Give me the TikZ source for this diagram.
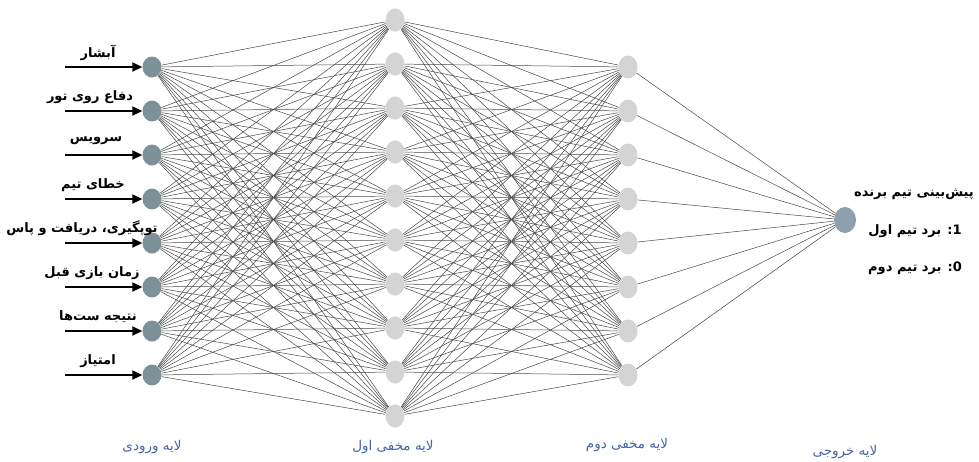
\documentclass[tikz,border=0pt]{standalone}
\usepackage{fontspec}
\newfontfamily\fa[Script=Arabic]{DejaVu Sans}
\TeXXeTstate=1
\usetikzlibrary{arrows.meta,shapes.geometric}
\pgfdeclarelayer{bg}\pgfsetlayers{bg,main}
\definecolor{inc}{RGB}{125,145,155}
\definecolor{hidc}{RGB}{212,212,212}
\definecolor{outc}{RGB}{140,160,176}
\definecolor{layc}{RGB}{70,100,165}
\begin{document}
\begin{tikzpicture}[x=1pt,y=-1pt,
  inode/.style={ellipse,fill=inc,minimum width=19pt,minimum height=21pt,inner sep=0pt},
  hnode/.style={ellipse,fill=hidc,minimum width=19pt,minimum height=23pt,inner sep=0pt},
  onode/.style={ellipse,fill=outc,minimum width=22pt,minimum height=26pt,inner sep=0pt},
  conn/.style={draw=black!72,line width=0.5pt},
  inarrow/.style={line width=1.8pt,-{Triangle[length=10pt,width=9pt]}},
  flabel/.style={font=\fa\bfseries\fontsize{13}{15}\selectfont,inner sep=1pt},
  laylabel/.style={font=\fa\fontsize{13.5}{15}\selectfont,text=layc,inner sep=1pt}]
\useasboundingbox (0,0) rectangle (979,461);
% input layer
\foreach \k in {1,...,8}{
  \node[inode] (i\k) at (152,{67+44*(\k-1)}) {};
  \coordinate (s\k) at (65,{67+44*(\k-1)});
}
% hidden layer 1
\foreach \k in {1,...,10}{
  \node[hnode] (h\k) at (395,{20+44*(\k-1)}) {};
}
% hidden layer 2
\foreach \k in {1,...,8}{
  \node[hnode] (g\k) at (628,{67+44*(\k-1)}) {};
}
% output
\node[onode] (o) at (845,220) {};
\begin{pgfonlayer}{bg}
\foreach \a in {1,...,8}{\foreach \b in {1,...,10}{\draw[conn] (i\a) -- (h\b);}}
\foreach \a in {1,...,10}{\foreach \b in {1,...,8}{\draw[conn] (h\a) -- (g\b);}}
\foreach \a in {1,...,8}{\draw[conn] (g\a) -- (o);}
\end{pgfonlayer}
% input arrows
\foreach \k in {1,...,8}{\draw[inarrow] (s\k) -- (i\k);}
% input labels
\node[flabel] (t1) at (98,53) {\beginR آبشار\endR};
\node[flabel] (t2) at (90,97) {\beginR دفاع روی تور\endR};
\node[flabel] (t3) at (96,141) {\beginR سرویس\endR};
\node[flabel] (t4) at (93,185) {\beginR خطای تیم\endR};
\node[flabel] (t5) at (82,228) {\beginR توپگیری، دریافت و پاس\endR};
\node[flabel] (t6) at (92,273) {\beginR زمان بازی قبل\endR};
\node[flabel] (t7) at (98,317) {\beginR نتیجه ست‌ها\endR};
\node[flabel] (t8) at (98,361) {\beginR امتیاز\endR};
% output labels
\node[flabel] (p1) at (914,194) {\beginR پیش‌بینی تیم برنده\endR};
\node[flabel] (p2) at (915,231) {\beginR 1: برد تیم اول\endR};
\node[flabel] (p3) at (915,268) {\beginR 0: برد تیم دوم\endR};
% layer labels
\node[laylabel] (L1) at (152,447) {\beginR لایه ورودی\endR};
\node[laylabel] (L2) at (393,447) {\beginR لایه مخفی اول\endR};
\node[laylabel] (L3) at (627,445) {\beginR لایه مخفی دوم\endR};
\node[laylabel] (L4) at (845,452) {\beginR لایه خروجی\endR};
\end{tikzpicture}
\end{document}
